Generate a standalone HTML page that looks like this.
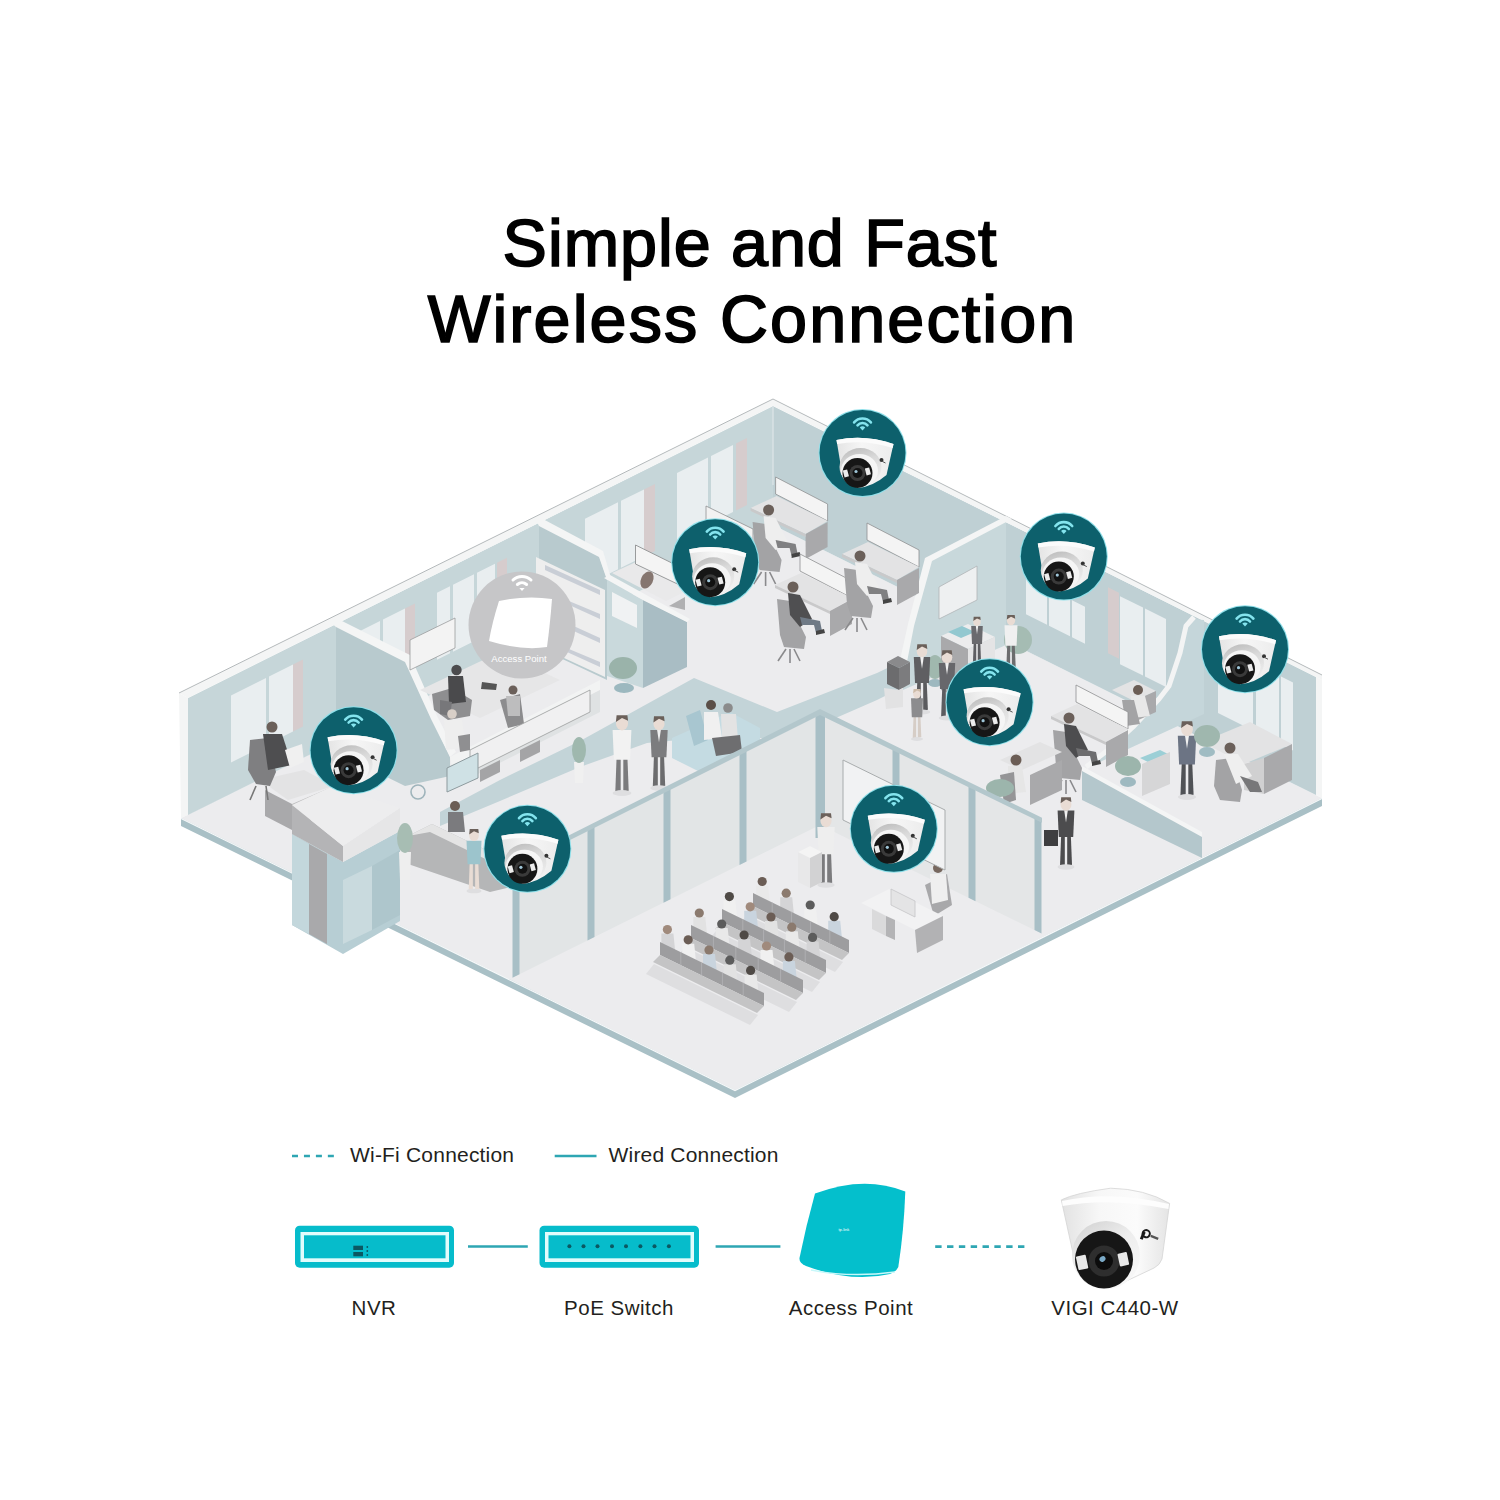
<!DOCTYPE html>
<html><head><meta charset="utf-8"><title>Simple and Fast Wireless Connection</title>
<style>
html,body{margin:0;padding:0;background:#fff;}
body{width:1500px;height:1500px;position:relative;overflow:hidden;font-family:"Liberation Sans",sans-serif;}
.t{position:absolute;color:#0a0a0a;white-space:nowrap;}
.h{text-align:center;font-size:66.5px;line-height:76px;color:#000;-webkit-text-stroke:1.7px #000;}
.l{font-size:21px;line-height:24px;color:#231f20;letter-spacing:0.2px}
.b{font-size:20.5px;line-height:24px;color:#231f20;text-align:center;letter-spacing:0.5px}
</style></head><body>
<svg width="1500" height="1500" viewBox="0 0 1500 1500" style="position:absolute;left:0;top:0">
<defs>
<linearGradient id="cdg" x1="0" y1="0" x2="1" y2="0"><stop offset="0" stop-color="#e4e4e4"/><stop offset="0.45" stop-color="#f6f6f6"/><stop offset="1" stop-color="#ececec"/></linearGradient>
<linearGradient id="crg" x1="0" y1="0" x2="0.3" y2="1"><stop offset="0" stop-color="#b9b9b9"/><stop offset="0.45" stop-color="#d9d9d9"/><stop offset="1" stop-color="#eeeeee"/></linearGradient>

<symbol id="cam" viewBox="-44 -44 88 88" overflow="visible">
 <circle r="44" fill="#8fe0ea"/>
 <circle r="43" fill="#0d606c"/>
 <path d="M-8.4,-30.6 A11,11 0 0 1 8.4,-30.6" fill="none" stroke="#84e4ee" stroke-width="2.6" stroke-linecap="round"/>
 <path d="M-5,-27.7 A6.5,6.5 0 0 1 5,-27.7" fill="none" stroke="#84e4ee" stroke-width="2.6" stroke-linecap="round"/>
 <path d="M0,-22.6 L-2.7,-25.6 A3.6,3.6 0 0 1 2.7,-25.6 Z" fill="#84e4ee"/>
 <path d="M-26,-13 Q2,-19 31,-9 L24,22 Q10,34 -5,35 L-20,23 Z" fill="url(#cdg)"/>
 <path d="M-26,-13 Q2,-19 31,-9 L30.2,-5 Q2,-14 -25.4,-9 Z" fill="#fbfbfb"/>
 <ellipse cx="-2" cy="14" rx="21" ry="19" fill="url(#crg)"/>
 <ellipse cx="-3" cy="17.5" rx="18.5" ry="16.5" fill="#f5f5f5"/>
 <circle cx="-5" cy="20" r="15" fill="#161616"/>
 <circle cx="-5" cy="20" r="8" fill="#3a3a3a"/>
 <circle cx="-5" cy="20" r="5" fill="#111"/>
 <circle cx="-6.5" cy="18.5" r="1.6" fill="#9fc6d8"/>
 <rect x="-19" y="17" width="4.5" height="7" fill="#ececec" transform="rotate(-15 -17 20)"/>
 <rect x="3" y="15" width="4.5" height="7" fill="#ececec" transform="rotate(-15 5 18)"/>
 <circle cx="19" cy="7" r="2" fill="#333"/>
 <path d="M19,8 L23,10" stroke="#555" stroke-width="1"/>
</symbol></defs>
<polygon points="181.0,818.0 773.0,525.0 1322.0,798.0 735.0,1090.0" fill="#ececee" />
<polygon points="181.0,818.0 735.0,1090.0 1322.0,798.0 1322.0,806.0 735.0,1098.0 181.0,826.0" fill="#a9c0c6" />
<polyline points="181.0,818.5 735.0,1090.5 1322.0,798.5" fill="none" stroke="#f6f8f9" stroke-width="1.2" />
<polygon points="188.0,698.0 773.0,406.0 773.0,525.0 188.0,815.0" fill="#c6d6d9" />
<polygon points="773.0,406.0 1316.0,677.0 1316.0,795.0 773.0,525.0" fill="#bfd0d4" />
<polygon points="231.0,695.5 266.0,678.0 266.0,745.0 231.0,762.5" fill="#e9eef0" />
<polygon points="269.0,676.5 293.0,664.5 293.0,731.5 269.0,743.5" fill="#e9eef0" />
<polygon points="357.0,632.6 380.0,621.1 380.0,688.1 357.0,699.6" fill="#e9eef0" />
<polygon points="383.0,619.6 405.0,608.6 405.0,675.6 383.0,686.6" fill="#e9eef0" />
<polygon points="437.0,592.7 450.0,586.2 450.0,653.2 437.0,659.7" fill="#e9eef0" />
<polygon points="453.0,584.7 474.0,574.2 474.0,641.2 453.0,651.7" fill="#e9eef0" />
<polygon points="477.0,572.7 495.0,563.7 495.0,630.7 477.0,639.7" fill="#e9eef0" />
<polygon points="585.0,518.8 618.0,502.3 618.0,569.3 585.0,585.8" fill="#e9eef0" />
<polygon points="621.0,500.8 644.0,489.4 644.0,556.4 621.0,567.8" fill="#e9eef0" />
<polygon points="677.0,472.9 708.0,457.4 708.0,524.4 677.0,539.9" fill="#e9eef0" />
<polygon points="711.0,455.9 733.0,445.0 733.0,512.0 711.0,522.9" fill="#e9eef0" />
<polygon points="293.0,664.5 303.0,659.5 303.0,726.5 293.0,731.5" fill="#d6cccd" />
<polygon points="405.0,608.6 415.0,603.6 415.0,670.6 405.0,675.6" fill="#d6cccd" />
<polygon points="497.0,562.7 507.0,557.7 507.0,624.7 497.0,629.7" fill="#d6cccd" />
<polygon points="644.0,489.4 655.0,483.9 655.0,550.9 644.0,556.4" fill="#d6cccd" />
<polygon points="736.0,443.5 747.0,438.0 747.0,505.0 736.0,510.5" fill="#d6cccd" />
<polygon points="1026.0,577.2 1047.0,587.7 1047.0,624.7 1026.0,614.2" fill="#e9eef0" />
<polygon points="1049.0,588.7 1070.0,599.2 1070.0,636.2 1049.0,625.7" fill="#e9eef0" />
<polygon points="1072.0,600.2 1085.0,606.7 1085.0,643.7 1072.0,637.2" fill="#e9eef0" />
<polygon points="1120.0,596.2 1143.0,607.6 1143.0,675.6 1120.0,664.2" fill="#e9eef0" />
<polygon points="1145.0,608.6 1166.0,619.1 1166.0,687.1 1145.0,676.6" fill="#e9eef0" />
<polygon points="1218.0,645.1 1253.0,662.5 1253.0,730.5 1218.0,713.1" fill="#e9eef0" />
<polygon points="1256.0,664.0 1279.0,675.5 1279.0,743.5 1256.0,732.0" fill="#e9eef0" />
<polygon points="1281.0,676.5 1293.0,682.5 1293.0,750.5 1281.0,744.5" fill="#e9eef0" />
<polygon points="1108.0,587.2 1119.0,592.7 1119.0,658.7 1108.0,653.2" fill="#d6cccd" />
<polygon points="179.0,693.0 773.0,399.0 1322.0,675.0 1322.0,680.0 1316.0,677.0 773.0,406.0 188.0,698.0" fill="#f4f5f5" />
<polygon points="179.0,693.0 188.0,698.0 188.0,815.0 181.0,818.0" fill="#f4f5f5" />
<polygon points="1316.0,677.0 1322.0,680.0 1322.0,798.0 1316.0,795.0" fill="#f4f5f5" />
<polyline points="179.0,693.0 773.0,399.0 1322.0,675.0" fill="none" stroke="#b4b9bb" stroke-width="1" />
<polyline points="773.0,406.0 773.0,485.0" fill="none" stroke="#d8e2e4" stroke-width="1.5" />
<polygon points="336.0,625.0 405.0,660.0 431.0,717.0 450.0,757.0 450.0,776.0 405.0,786.0 336.0,752.0" fill="#b8cace" />
<polygon points="330.0,622.0 336.0,618.0 410.0,655.0 437.0,716.0 456.0,752.0 450.0,757.0 431.0,719.0 405.0,662.0 336.0,627.0" fill="#f4f5f5" />
<polygon points="450.0,757.0 600.0,680.0 600.0,690.0 452.0,767.0" fill="#f2f3f3" />
<polygon points="452.0,767.0 600.0,690.0 600.0,712.0 470.0,778.0 452.0,790.0" fill="#dfe2e3" />
<polygon points="539.0,523.0 599.0,555.0 607.0,579.0 607.0,680.0 539.0,648.0" fill="#b8cace" />
<polygon points="536.0,520.0 541.0,518.0 603.0,551.0 611.0,578.0 607.0,580.0 599.0,557.0 539.0,526.0" fill="#f4f5f5" />
<polygon points="536.0,557.0 605.0,590.0 605.0,677.0 536.0,645.0" fill="#eeeeee" />
<polygon points="545.0,565.0 600.0,590.0 600.0,595.0 545.0,570.0" fill="#c9ced6" />
<polygon points="545.0,591.0 600.0,614.0 600.0,619.0 545.0,594.0" fill="#c9ced6" />
<polygon points="545.0,613.0 600.0,638.0 600.0,643.0 545.0,618.0" fill="#c9ced6" />
<polygon points="545.0,639.0 600.0,662.0 600.0,667.0 545.0,642.0" fill="#c9ced6" />
<polygon points="607.0,580.0 643.0,600.0 643.0,688.0 607.0,676.0" fill="#c9d9dc" />
<polygon points="612.0,592.0 637.0,605.0 637.0,628.0 612.0,616.0" fill="#f0f2f3" />
<polygon points="643.0,600.0 687.0,622.0 687.0,667.0 643.0,688.0" fill="#a9bdc4" />
<polygon points="604.0,578.0 610.0,575.0 690.0,619.0 687.0,622.0 643.0,600.0" fill="#f4f5f5" />
<polygon points="440.0,812.0 500.0,780.0 580.0,741.0 694.0,678.0 777.0,712.0 877.0,673.0 925.0,650.0 925.0,676.0 877.0,700.0 790.0,738.0 700.0,738.0 647.0,743.0 580.0,767.0 500.0,801.0 440.0,826.0" fill="#c3d4d8" />
<polygon points="1006.0,522.0 928.0,561.0 910.0,625.0 903.0,660.0 903.0,690.0 1006.0,645.0" fill="#c8d8db" />
<polygon points="1006.0,516.0 1012.0,519.0 932.0,561.0 914.0,626.0 907.0,662.0 900.0,660.0 908.0,624.0 925.0,558.0" fill="#f4f5f5" />
<polygon points="939.0,587.0 977.0,566.0 977.0,600.0 939.0,619.0" fill="#eef0f1" stroke="#b0b4b6" stroke-width="0.8"/>
<polygon points="1192.0,619.0 1204.0,620.0 1204.0,714.0 1089.0,767.0 1108.0,750.0 1133.0,727.0 1159.0,699.0 1169.0,686.0 1180.0,653.0 1186.0,626.0" fill="#c5d6da" />
<polyline points="1194.0,617.0 1186.0,626.0 1180.0,653.0 1169.0,686.0 1159.0,699.0 1133.0,727.0 1108.0,750.0 1086.0,767.0" fill="none" stroke="#f3f4f4" stroke-width="5" stroke-linejoin="round"/>
<polygon points="1082.0,770.0 1202.0,836.0 1202.0,858.0 1082.0,800.0" fill="#b4c7cc" />
<polygon points="1082.0,766.0 1202.0,832.0 1202.0,837.0 1082.0,771.0" fill="#f4f5f5" />
<polygon points="260.0,780.0 304.0,770.0 334.0,786.0 288.0,800.0" fill="#e3e3e4" />
<polygon points="265.0,790.0 292.0,804.0 292.0,830.0 265.0,816.0" fill="#a9a9ab" />
<polygon points="292.0,804.0 334.0,786.0 334.0,806.0 292.0,830.0" fill="#bdbdbe" />
<polygon points="250.0,740.0 268.0,738.0 276.0,772.0 270.0,786.0 256.0,784.0 248.0,770.0" fill="#7f7f81" />
<circle cx="272.0" cy="727.0" r="5.5" fill="#6b605a"/>
<polygon points="263.0,734.0 282.0,734.0 292.0,765.0 268.0,770.0" fill="#4e4e50" />
<polygon points="285.0,750.0 302.0,744.0 304.0,762.0 290.0,768.0" fill="#f0f0f0" />
<polyline points="256.0,786.0 250.0,800.0" fill="none" stroke="#777" stroke-width="1.6"/>
<polyline points="266.0,786.0 268.0,800.0" fill="none" stroke="#777" stroke-width="1.6"/>
<polygon points="420.0,690.0 500.0,652.0 560.0,680.0 480.0,718.0" fill="#e6e6e7" />
<polygon points="410.0,640.0 455.0,618.0 455.0,648.0 410.0,670.0" fill="#f3f3f3" stroke="#9a9c9d" stroke-width="0.8"/>
<polygon points="432.0,694.0 452.0,688.0 472.0,700.0 470.0,716.0 448.0,720.0 434.0,710.0" fill="#8e8e90" />
<circle cx="456.5" cy="670.0" r="5.2" fill="#4c4c4e"/>
<polygon points="448.0,676.0 463.0,676.0 466.0,702.0 449.0,704.0" fill="#4a4a4c" />
<polygon points="440.0,700.0 452.0,702.0 450.0,716.0 440.0,714.0" fill="#77777a" />
<polygon points="482.0,682.0 497.0,684.0 496.0,690.0 481.0,689.0" fill="#555" />
<polygon points="500.0,700.0 520.0,694.0 524.0,724.0 508.0,728.0" fill="#8c8c8e" />
<circle cx="513.0" cy="690.0" r="4.5" fill="#6b605a"/>
<polygon points="506.0,696.0 520.0,696.0 520.0,716.0 508.0,716.0" fill="#bdbdbe" />
<circle cx="452.0" cy="714.0" r="4.8" fill="#d8cfc8"/>
<polygon points="444.0,720.0 462.0,720.0 466.0,748.0 446.0,750.0" fill="#eeeeee" />
<polygon points="458.0,736.0 470.0,734.0 470.0,750.0 460.0,752.0" fill="#8f8f91" />
<polygon points="470.0,750.0 590.0,690.0 590.0,712.0 470.0,772.0" fill="#f0f0f1" stroke="#9a9c9d" stroke-width="0.8"/>
<polygon points="480.0,770.0 500.0,760.0 500.0,772.0 480.0,782.0" fill="#a4a4a6" />
<polygon points="520.0,750.0 540.0,740.0 540.0,752.0 520.0,762.0" fill="#a4a4a6" />
<polygon points="447.0,768.0 478.0,753.0 478.0,778.0 447.0,792.0" fill="#cfe1e5" stroke="#8d9a9e" stroke-width="1"/>
<polygon points="706.0,506.0 753.0,529.0 753.0,546.0 706.0,523.0" fill="#f2f2f2" stroke="#8f9192" stroke-width="0.8"/>
<polygon points="775.6,477.0 827.6,504.0 827.6,521.0 775.6,494.0" fill="#f4f4f4" stroke="#8f9192" stroke-width="0.8"/>
<polygon points="750.6,508.0 776.6,496.0 827.6,521.0 805.6,534.0" fill="#e3e3e4" />
<polygon points="805.6,534.0 827.6,522.0 827.6,547.0 805.6,559.0" fill="#a9a9ab" />
<polygon points="750.6,508.0 805.6,534.0 805.6,537.0 750.6,511.0" fill="#c9c9ca" />
<polygon points="752.6,522.0 765.6,524.0 775.6,548.0 781.6,560.0 779.6,572.0 759.6,570.0 755.6,558.0" fill="#a3a3a5" />
<polyline points="761.6,572.0 753.6,584.0" fill="none" stroke="#8a8a8c" stroke-width="1.6"/>
<polyline points="769.6,572.0 775.6,584.0" fill="none" stroke="#8a8a8c" stroke-width="1.6"/>
<polyline points="765.6,572.0 765.6,586.0" fill="none" stroke="#8a8a8c" stroke-width="1.6"/>
<circle cx="768.6" cy="510.0" r="5.5" fill="#6b605a"/>
<polygon points="763.6,516.0 775.6,518.0 787.6,542.0 775.6,550.0 765.6,538.0" fill="#eeeeee" />
<polygon points="775.6,540.0 795.6,544.0 797.6,554.0 791.6,556.0 789.6,548.0 777.6,548.0" fill="#808082" />
<polygon points="791.6,554.0 799.6,552.0 800.6,556.0 791.6,558.0" fill="#444" />
<polygon points="800.0,554.0 852.0,581.0 852.0,598.0 800.0,571.0" fill="#f4f4f4" stroke="#8f9192" stroke-width="0.8"/>
<polygon points="775.0,585.0 801.0,573.0 852.0,598.0 830.0,611.0" fill="#e3e3e4" />
<polygon points="830.0,611.0 852.0,599.0 852.0,624.0 830.0,636.0" fill="#a9a9ab" />
<polygon points="775.0,585.0 830.0,611.0 830.0,614.0 775.0,588.0" fill="#c9c9ca" />
<polygon points="777.0,599.0 790.0,601.0 800.0,625.0 806.0,637.0 804.0,649.0 784.0,647.0 780.0,635.0" fill="#a3a3a5" />
<polyline points="786.0,649.0 778.0,661.0" fill="none" stroke="#8a8a8c" stroke-width="1.6"/>
<polyline points="794.0,649.0 800.0,661.0" fill="none" stroke="#8a8a8c" stroke-width="1.6"/>
<polyline points="790.0,649.0 790.0,663.0" fill="none" stroke="#8a8a8c" stroke-width="1.6"/>
<circle cx="793.0" cy="587.0" r="5.5" fill="#6b605a"/>
<polygon points="788.0,593.0 800.0,595.0 812.0,619.0 800.0,627.0 790.0,615.0" fill="#4f4f51" />
<polygon points="800.0,617.0 820.0,621.0 822.0,631.0 816.0,633.0 814.0,625.0 802.0,625.0" fill="#6f7a86" />
<polygon points="816.0,631.0 824.0,629.0 825.0,633.0 816.0,635.0" fill="#444" />
<polygon points="867.0,523.0 919.0,550.0 919.0,567.0 867.0,540.0" fill="#f4f4f4" stroke="#8f9192" stroke-width="0.8"/>
<polygon points="842.0,554.0 868.0,542.0 919.0,567.0 897.0,580.0" fill="#e3e3e4" />
<polygon points="897.0,580.0 919.0,568.0 919.0,593.0 897.0,605.0" fill="#a9a9ab" />
<polygon points="842.0,554.0 897.0,580.0 897.0,583.0 842.0,557.0" fill="#c9c9ca" />
<polygon points="844.0,568.0 857.0,570.0 867.0,594.0 873.0,606.0 871.0,618.0 851.0,616.0 847.0,604.0" fill="#a3a3a5" />
<polyline points="853.0,618.0 845.0,630.0" fill="none" stroke="#8a8a8c" stroke-width="1.6"/>
<polyline points="861.0,618.0 867.0,630.0" fill="none" stroke="#8a8a8c" stroke-width="1.6"/>
<polyline points="857.0,618.0 857.0,632.0" fill="none" stroke="#8a8a8c" stroke-width="1.6"/>
<circle cx="860.0" cy="556.0" r="5.5" fill="#6b605a"/>
<polygon points="855.0,562.0 867.0,564.0 879.0,588.0 867.0,596.0 857.0,584.0" fill="#eeeeee" />
<polygon points="867.0,586.0 887.0,590.0 889.0,600.0 883.0,602.0 881.0,594.0 869.0,594.0" fill="#808082" />
<polygon points="883.0,600.0 891.0,598.0 892.0,602.0 883.0,604.0" fill="#444" />
<polygon points="612.0,573.0 636.0,562.0 690.0,589.0 666.0,601.0" fill="#e9e9ea" />
<polygon points="635.5,545.0 690.0,572.0 690.0,590.0 635.5,564.0" fill="#f4f4f4" stroke="#8f9192" stroke-width="0.9"/>
<ellipse cx="647" cy="580" rx="6" ry="9" fill="#857670" transform="rotate(25 647 580)"/>
<polygon points="669.0,606.0 685.0,597.0 685.0,610.0" fill="#b0b0b2" />
<polygon points="616.6,757.0 620.7,757.0 620.7,792.0 615.3,792.0" fill="#7b7b7d" />
<polygon points="623.3,757.0 627.4,757.0 628.7,790.7 623.3,792.0" fill="#7b7b7d" />
<polygon points="612.6,730.1 631.4,730.1 630.1,759.7 613.9,759.7" fill="#f2f2f2" />
<ellipse cx="622.0" cy="723.4" rx="6.051724137931035" ry="6.993103448275862" fill="#e9dcd4"/>
<polygon points="615.9,722.1 616.6,715.3 627.4,715.3 628.1,720.7 622.0,718.0" fill="#6b605a" />
<ellipse cx="622.0" cy="793.0" rx="9.413793103448276" ry="2.9586206896551728" fill="#dedee0"/>
<polygon points="654.0,754.7 657.8,754.7 657.8,787.0 652.8,787.0" fill="#6c6c6e" />
<polygon points="660.2,754.7 664.0,754.7 665.2,785.8 660.2,787.0" fill="#6c6c6e" />
<polygon points="650.3,729.9 667.7,729.9 666.4,757.2 651.6,757.2" fill="#7c7c7e" />
<polygon points="657.1,729.9 660.9,729.9 659.0,742.3" fill="#f0f0f0" />
<ellipse cx="659.0" cy="723.7" rx="5.586206896551724" ry="6.455172413793104" fill="#e9dcd4"/>
<polygon points="653.4,722.4 654.0,716.2 664.0,716.2 664.6,721.2 659.0,718.7" fill="#6b605a" />
<ellipse cx="659.0" cy="788.0" rx="8.689655172413794" ry="2.731034482758621" fill="#dedee0"/>
<polygon points="672.0,738.0 730.0,712.0 760.0,728.0 760.0,745.0 700.0,772.0 672.0,758.0" fill="#c4dbe2" />
<polygon points="686.0,716.0 700.0,710.0 708.0,740.0 694.0,746.0" fill="#a8c6d0" />
<circle cx="711.0" cy="705.0" r="5" fill="#5b4f48"/>
<polygon points="704.0,712.0 718.0,712.0 722.0,738.0 704.0,740.0" fill="#f0f0f0" />
<circle cx="728.0" cy="708.0" r="4.8" fill="#8b8b8b"/>
<polygon points="721.0,714.0 736.0,714.0 738.0,740.0 722.0,740.0" fill="#e3e3e3" />
<polygon points="712.0,738.0 740.0,735.0 742.0,752.0 716.0,756.0" fill="#6e6e70" />
<polygon points="574.0,762.0 584.0,762.0 583.0,783.0 575.0,783.0" fill="#f0f0f0" />
<ellipse cx="579.0" cy="750.0" rx="7" ry="13" fill="#9fb8ae"/>
<ellipse cx="623.0" cy="668.0" rx="14" ry="11" fill="#9ab3aa"/>
<ellipse cx="624.0" cy="688.0" rx="10" ry="5" fill="#9cb8bf"/>
<ellipse cx="1018.0" cy="640.0" rx="14" ry="14" fill="#a5bcb3"/>
<polygon points="941.0,636.0 968.0,624.0 995.0,637.0 968.0,649.0" fill="#ececed" />
<polygon points="948.0,632.0 962.0,626.0 975.0,632.0 961.0,638.0" fill="#93c8d0" />
<polygon points="968.0,649.0 995.0,637.0 995.0,690.0 968.0,702.0" fill="#e4e4e5" />
<polygon points="941.0,636.0 968.0,649.0 968.0,702.0 941.0,690.0" fill="#a9a9ab" />
<polygon points="973.7,642.5 976.2,642.5 976.2,664.0 972.9,664.0" fill="#5e5e62" />
<polygon points="977.8,642.5 980.3,642.5 981.1,663.2 977.8,664.0" fill="#5e5e62" />
<polygon points="971.2,625.9 982.8,625.9 982.0,644.1 972.0,644.1" fill="#6a6a6e" />
<polygon points="975.8,625.9 978.2,625.9 977.0,634.2" fill="#f0f0f0" />
<ellipse cx="977.0" cy="621.8" rx="3.7241379310344827" ry="4.303448275862069" fill="#e9dcd4"/>
<polygon points="973.3,621.0 973.7,616.8 980.3,616.8 980.7,620.1 977.0,618.5" fill="#6b605a" />
<ellipse cx="977.0" cy="665.0" rx="5.793103448275862" ry="1.8206896551724139" fill="#dedee0"/>
<polygon points="1007.3,643.8 1010.1,643.8 1010.1,668.0 1006.3,668.0" fill="#6c6c6e" />
<polygon points="1011.9,643.8 1014.7,643.8 1015.7,667.1 1011.9,668.0" fill="#6c6c6e" />
<polygon points="1004.5,625.2 1017.5,625.2 1016.6,645.7 1005.4,645.7" fill="#f0f0f0" />
<ellipse cx="1011.0" cy="620.5" rx="4.189655172413793" ry="4.841379310344828" fill="#e9dcd4"/>
<polygon points="1006.8,619.6 1007.3,614.9 1014.7,614.9 1015.2,618.7 1011.0,616.8" fill="#6b605a" />
<ellipse cx="1011.0" cy="669.0" rx="6.517241379310344" ry="2.048275862068966" fill="#dedee0"/>
<polygon points="887.0,662.0 898.0,656.0 910.0,662.0 899.0,668.0" fill="#8a8a8c" />
<polygon points="887.0,662.0 899.0,668.0 899.0,690.0 887.0,684.0" fill="#6c6c6e" />
<polygon points="899.0,668.0 910.0,662.0 910.0,684.0 899.0,690.0" fill="#7c7c7e" />
<polygon points="884.0,688.0 899.0,690.0 903.0,688.0 903.0,707.0 886.0,709.0" fill="#e2e2e3" />
<ellipse cx="935.0" cy="667.0" rx="8" ry="12" fill="#a0b8ae"/>
<ellipse cx="935.0" cy="683.0" rx="7" ry="4" fill="#9db8bf"/>
<polygon points="917.3,680.5 920.8,680.5 920.8,711.0 916.1,711.0" fill="#5b5b5e" />
<polygon points="923.2,680.5 926.7,680.5 927.9,709.8 923.2,711.0" fill="#5b5b5e" />
<polygon points="913.8,657.1 930.2,657.1 929.0,682.9 915.0,682.9" fill="#5f5f62" />
<polygon points="920.2,657.1 923.8,657.1 922.0,668.8" fill="#f0f0f0" />
<ellipse cx="922.0" cy="651.2" rx="5.275862068965517" ry="6.096551724137931" fill="#e9dcd4"/>
<polygon points="916.7,650.0 917.3,644.2 926.7,644.2 927.3,648.9 922.0,646.5" fill="#6b605a" />
<ellipse cx="922.0" cy="712.0" rx="8.206896551724137" ry="2.579310344827586" fill="#dedee0"/>
<polygon points="942.3,686.5 945.8,686.5 945.8,717.0 941.1,717.0" fill="#5c5c60" />
<polygon points="948.2,686.5 951.7,686.5 952.9,715.8 948.2,717.0" fill="#5c5c60" />
<polygon points="938.8,663.1 955.2,663.1 954.0,688.9 940.0,688.9" fill="#67676b" />
<polygon points="945.2,663.1 948.8,663.1 947.0,674.8" fill="#f0f0f0" />
<ellipse cx="947.0" cy="657.2" rx="5.275862068965517" ry="6.096551724137931" fill="#e9dcd4"/>
<polygon points="941.7,656.0 942.3,650.2 951.7,650.2 952.3,654.9 947.0,652.5" fill="#6b605a" />
<ellipse cx="947.0" cy="718.0" rx="8.206896551724137" ry="2.579310344827586" fill="#dedee0"/>
<polygon points="913.6,715.6 916.1,715.6 916.1,738.0 912.7,738.0" fill="#d6cdc6" />
<polygon points="917.9,715.6 920.4,715.6 921.3,737.1 917.9,738.0" fill="#d6cdc6" />
<polygon points="911.0,698.3 923.0,698.3 922.2,717.3 911.8,717.3" fill="#8c8c8e" />
<ellipse cx="917.0" cy="694.0" rx="3.879310344827586" ry="4.482758620689655" fill="#e9dcd4"/>
<polygon points="913.1,693.2 913.6,688.9 920.4,688.9 920.9,692.3 917.0,690.6" fill="#cdbba8" />
<ellipse cx="917.0" cy="739.0" rx="6.0344827586206895" ry="1.896551724137931" fill="#dedee0"/>
<polygon points="1112.0,690.0 1134.0,680.0 1156.0,691.0 1134.0,701.0" fill="#e3e3e4" />
<polygon points="1134.0,701.0 1156.0,691.0 1156.0,712.0 1134.0,722.0" fill="#a9a9ab" />
<circle cx="1138.0" cy="690.0" r="5" fill="#6b5d55"/>
<polygon points="1131.0,696.0 1145.0,696.0 1150.0,716.0 1133.0,718.0" fill="#e8e8e8" />
<polygon points="1122.0,700.0 1134.0,700.0 1140.0,724.0 1126.0,726.0" fill="#a3a3a5" />
<polygon points="1076.0,685.0 1128.0,712.0 1128.0,729.0 1076.0,702.0" fill="#f4f4f4" stroke="#8f9192" stroke-width="0.8"/>
<polygon points="1051.0,716.0 1077.0,704.0 1128.0,729.0 1106.0,742.0" fill="#e3e3e4" />
<polygon points="1106.0,742.0 1128.0,730.0 1128.0,755.0 1106.0,767.0" fill="#a9a9ab" />
<polygon points="1051.0,716.0 1106.0,742.0 1106.0,745.0 1051.0,719.0" fill="#c9c9ca" />
<polygon points="1053.0,730.0 1066.0,732.0 1076.0,756.0 1082.0,768.0 1080.0,780.0 1060.0,778.0 1056.0,766.0" fill="#a3a3a5" />
<polyline points="1062.0,780.0 1054.0,792.0" fill="none" stroke="#8a8a8c" stroke-width="1.6"/>
<polyline points="1070.0,780.0 1076.0,792.0" fill="none" stroke="#8a8a8c" stroke-width="1.6"/>
<polyline points="1066.0,780.0 1066.0,794.0" fill="none" stroke="#8a8a8c" stroke-width="1.6"/>
<circle cx="1069.0" cy="718.0" r="5.5" fill="#6b605a"/>
<polygon points="1064.0,724.0 1076.0,726.0 1088.0,750.0 1076.0,758.0 1066.0,746.0" fill="#4d4d4f" />
<polygon points="1076.0,748.0 1096.0,752.0 1098.0,762.0 1092.0,764.0 1090.0,756.0 1078.0,756.0" fill="#6d6d6f" />
<polygon points="1092.0,762.0 1100.0,760.0 1101.0,764.0 1092.0,766.0" fill="#444" />
<polygon points="1000.0,760.0 1040.0,742.0 1062.0,752.0 1022.0,770.0" fill="#e3e3e4" />
<polygon points="1030.0,775.0 1062.0,760.0 1062.0,790.0 1030.0,805.0" fill="#a9a9ab" />
<circle cx="1016.0" cy="760.0" r="5.5" fill="#6b5d55"/>
<polygon points="1008.0,766.0 1022.0,766.0 1026.0,792.0 1008.0,794.0" fill="#e6e6e6" />
<polygon points="1000.0,775.0 1014.0,772.0 1016.0,800.0 1004.0,804.0" fill="#959597" />
<polygon points="1061.2,834.6 1064.8,834.6 1064.8,866.0 1060.0,866.0" fill="#4c4c4e" />
<polygon points="1067.2,834.6 1070.8,834.6 1072.0,864.8 1067.2,866.0" fill="#4c4c4e" />
<polygon points="1057.6,810.5 1074.4,810.5 1073.2,837.0 1058.8,837.0" fill="#4c4c4e" />
<polygon points="1064.2,810.5 1067.8,810.5 1066.0,822.6" fill="#f0f0f0" />
<ellipse cx="1066.0" cy="804.4" rx="5.431034482758621" ry="6.275862068965517" fill="#e9dcd4"/>
<polygon points="1060.6,803.2 1061.2,797.2 1070.8,797.2 1071.4,802.0 1066.0,799.6" fill="#6b605a" />
<ellipse cx="1066.0" cy="867.0" rx="8.448275862068964" ry="2.6551724137931036" fill="#dedee0"/>
<polygon points="1044.0,830.0 1058.0,830.0 1058.0,846.0 1044.0,846.0" fill="#3e3e40" />
<ellipse cx="1000.0" cy="788.0" rx="14" ry="9" fill="#9cb5ac"/>
<ellipse cx="1000.0" cy="805.0" rx="9" ry="5" fill="#9eb9c0"/>
<polygon points="1181.8,761.9 1185.7,761.9 1185.7,796.0 1180.4,796.0" fill="#505256" />
<polygon points="1188.3,761.9 1192.2,761.9 1193.6,794.7 1188.3,796.0" fill="#505256" />
<polygon points="1177.8,735.7 1196.2,735.7 1194.9,764.6 1179.1,764.6" fill="#6c7484" />
<polygon points="1185.0,735.7 1189.0,735.7 1187.0,748.8" fill="#f0f0f0" />
<ellipse cx="1187.0" cy="729.2" rx="5.896551724137931" ry="6.813793103448276" fill="#e9dcd4"/>
<polygon points="1181.1,727.9 1181.8,721.3 1192.2,721.3 1192.9,726.6 1187.0,723.9" fill="#6b605a" />
<ellipse cx="1187.0" cy="797.0" rx="9.172413793103448" ry="2.882758620689655" fill="#dedee0"/>
<polygon points="1202.0,742.0 1250.0,722.0 1292.0,744.0 1244.0,764.0" fill="#e3e3e4" />
<polygon points="1264.0,758.0 1292.0,744.0 1292.0,780.0 1264.0,794.0" fill="#a9a9ab" />
<polygon points="1244.0,764.0 1264.0,758.0 1264.0,794.0 1244.0,790.0" fill="#d0d0d1" />
<polygon points="1216.0,760.0 1232.0,758.0 1242.0,790.0 1240.0,802.0 1220.0,800.0 1214.0,786.0" fill="#a3a3a5" />
<circle cx="1230.0" cy="748.0" r="5.5" fill="#6b605a"/>
<polygon points="1224.0,754.0 1238.0,754.0 1252.0,776.0 1236.0,784.0" fill="#efefef" />
<polygon points="1240.0,776.0 1258.0,782.0 1262.0,792.0 1250.0,792.0" fill="#777779" />
<ellipse cx="1207.0" cy="736.0" rx="13" ry="11" fill="#9fb7ae"/>
<ellipse cx="1207.0" cy="752.0" rx="8" ry="5" fill="#a0bcc3"/>
<ellipse cx="1128.0" cy="766.0" rx="13" ry="10" fill="#9cb5ac"/>
<ellipse cx="1128.0" cy="782.0" rx="8" ry="5" fill="#9eb9c0"/>
<polygon points="1140.0,758.0 1160.0,750.0 1168.0,754.0 1148.0,762.0" fill="#9ccfd6" />
<polygon points="1142.0,764.0 1170.0,752.0 1170.0,784.0 1142.0,796.0" fill="#d6d6d7" />
<polygon points="516.0,863.1 820.0,712.0 820.0,825.0 516.0,976.1" fill="#e2e5e6" />
<polygon points="820.0,712.0 1038.0,818.8 1038.0,931.8 820.0,825.0" fill="#e4e6e7" />
<polygon points="512.5,864.8 519.5,861.3 519.5,974.3 512.5,977.8" fill="#a8bfc6" />
<polygon points="587.5,827.6 594.5,824.1 594.5,937.1 587.5,940.6" fill="#a8bfc6" />
<polygon points="663.5,789.8 670.5,786.3 670.5,899.3 663.5,902.8" fill="#a8bfc6" />
<polygon points="739.5,752.0 746.5,748.5 746.5,861.5 739.5,865.0" fill="#a8bfc6" />
<polygon points="892.5,747.5 899.5,751.0 899.5,864.0 892.5,860.5" fill="#a8bfc6" />
<polygon points="968.5,784.8 975.5,788.2 975.5,901.2 968.5,897.8" fill="#a8bfc6" />
<polygon points="1034.5,817.1 1041.5,820.5 1041.5,933.5 1034.5,930.1" fill="#a8bfc6" />
<polygon points="815.5,712.0 825.0,712.0 825.0,838.0 815.5,838.0" fill="#a8bfc6" />
<polygon points="512.0,864.1 820.0,709.0 1042.0,817.8 1042.0,822.8 820.0,715.0 512.0,869.1" fill="#b3c7cc" />
<polygon points="292.0,834.0 343.0,862.0 400.0,831.0 400.0,921.0 343.0,954.0 292.0,925.0" fill="#b7ced4" />
<polygon points="292.0,834.0 309.0,844.0 309.0,934.0 292.0,925.0" fill="#c3d7dc" />
<polygon points="309.0,844.0 327.0,854.0 327.0,944.0 309.0,934.0" fill="#a9a9ab" />
<polygon points="343.0,880.0 372.0,866.0 372.0,930.0 343.0,944.0" fill="#c9dade" />
<polygon points="372.0,866.0 400.0,850.0 400.0,915.0 372.0,930.0" fill="#aec6cc" />
<polygon points="292.0,805.0 343.0,846.0 343.0,862.0 292.0,834.0" fill="#b4b4b6" />
<polygon points="343.0,846.0 400.0,808.0 400.0,831.0 343.0,862.0" fill="#e6e6e7" />
<polygon points="292.0,805.0 333.0,786.0 400.0,808.0 343.0,846.0" fill="#ededee" />
<polygon points="408.0,836.0 432.0,824.0 515.0,864.0 515.0,886.0 490.0,892.0 408.0,864.0" fill="#b5b6b7" />
<polygon points="408.0,836.0 432.0,824.0 515.0,864.0 508.0,870.0 430.0,832.0" fill="#e4e4e4" />
<polygon points="747.0,915.0 843.0,962.0 835.0,972.0 739.0,925.0" fill="#dedee0" />
<polygon points="756.2,885.5 768.2,885.5 770.2,905.5 756.2,904.5" fill="#e9e9e9" />
<circle cx="762.2" cy="881.5" r="4.6" fill="#6b5d55"/>
<polygon points="780.2,897.2 792.2,897.2 794.2,917.2 780.2,916.2" fill="#d4d4d6" />
<circle cx="786.2" cy="893.2" r="4.6" fill="#8b7a6e"/>
<polygon points="804.2,909.0 816.2,909.0 818.2,929.0 804.2,928.0" fill="#f0f0f0" />
<circle cx="810.2" cy="905.0" r="4.6" fill="#5c5c5c"/>
<polygon points="828.2,920.7 840.2,920.7 842.2,940.7 828.2,939.7" fill="#c9d4de" />
<circle cx="834.2" cy="916.7" r="4.6" fill="#4f4a46"/>
<polygon points="753.0,893.0 849.0,940.0 849.0,953.0 753.0,906.0" fill="#9d9d9f" />
<polygon points="753.0,906.0 849.0,953.0 842.0,960.0 746.0,913.0" fill="#c4c4c5" />
<polyline points="772.2,902.4 772.2,915.4" fill="none" stroke="#b4b4b6" stroke-width="0.8"/>
<polyline points="791.4,911.8 791.4,924.8" fill="none" stroke="#b4b4b6" stroke-width="0.8"/>
<polyline points="810.6,921.2 810.6,934.2" fill="none" stroke="#b4b4b6" stroke-width="0.8"/>
<polyline points="829.8,930.6 829.8,943.6" fill="none" stroke="#b4b4b6" stroke-width="0.8"/>
<polygon points="716.0,931.0 820.0,982.0 812.0,992.0 708.0,941.0" fill="#dedee0" />
<polygon points="723.4,900.6 735.4,900.6 737.4,920.6 723.4,919.6" fill="#f0f0f0" />
<circle cx="729.4" cy="896.6" r="4.6" fill="#4f4a46"/>
<polygon points="744.2,910.8 756.2,910.8 758.2,930.8 744.2,929.8" fill="#c9d4de" />
<circle cx="750.2" cy="906.8" r="4.6" fill="#a08a7c"/>
<polygon points="765.0,921.0 777.0,921.0 779.0,941.0 765.0,940.0" fill="#e2e2e2" />
<circle cx="771.0" cy="917.0" r="4.6" fill="#6b5d55"/>
<polygon points="785.8,931.2 797.8,931.2 799.8,951.2 785.8,950.2" fill="#e9e9e9" />
<circle cx="791.8" cy="927.2" r="4.6" fill="#8b7a6e"/>
<polygon points="806.6,941.4 818.6,941.4 820.6,961.4 806.6,960.4" fill="#d4d4d6" />
<circle cx="812.6" cy="937.4" r="4.6" fill="#5c5c5c"/>
<polygon points="722.0,909.0 826.0,960.0 826.0,973.0 722.0,922.0" fill="#9d9d9f" />
<polygon points="722.0,922.0 826.0,973.0 819.0,980.0 715.0,929.0" fill="#c4c4c5" />
<polyline points="742.8,919.2 742.8,932.2" fill="none" stroke="#b4b4b6" stroke-width="0.8"/>
<polyline points="763.6,929.4 763.6,942.4" fill="none" stroke="#b4b4b6" stroke-width="0.8"/>
<polyline points="784.4,939.6 784.4,952.6" fill="none" stroke="#b4b4b6" stroke-width="0.8"/>
<polyline points="805.2,949.8 805.2,962.8" fill="none" stroke="#b4b4b6" stroke-width="0.8"/>
<polygon points="685.0,947.0 797.0,1001.9 789.0,1011.9 677.0,957.0" fill="#dedee0" />
<polygon points="693.3,917.0 705.3,917.0 707.3,937.0 693.3,936.0" fill="#e2e2e2" />
<circle cx="699.3" cy="913.0" r="4.6" fill="#8b7a6e"/>
<polygon points="715.7,928.0 727.7,928.0 729.7,948.0 715.7,947.0" fill="#e9e9e9" />
<circle cx="721.7" cy="924.0" r="4.6" fill="#5c5c5c"/>
<polygon points="738.1,939.0 750.1,939.0 752.1,959.0 738.1,958.0" fill="#d4d4d6" />
<circle cx="744.1" cy="935.0" r="4.6" fill="#4f4a46"/>
<polygon points="760.5,950.0 772.5,950.0 774.5,970.0 760.5,969.0" fill="#f0f0f0" />
<circle cx="766.5" cy="946.0" r="4.6" fill="#a08a7c"/>
<polygon points="782.9,960.9 794.9,960.9 796.9,980.9 782.9,979.9" fill="#c9d4de" />
<circle cx="788.9" cy="956.9" r="4.6" fill="#6b5d55"/>
<polygon points="691.0,925.0 803.0,979.9 803.0,992.9 691.0,938.0" fill="#9d9d9f" />
<polygon points="691.0,938.0 803.0,992.9 796.0,999.9 684.0,945.0" fill="#c4c4c5" />
<polyline points="713.4,936.0 713.4,949.0" fill="none" stroke="#b4b4b6" stroke-width="0.8"/>
<polyline points="735.8,947.0 735.8,960.0" fill="none" stroke="#b4b4b6" stroke-width="0.8"/>
<polyline points="758.2,957.9 758.2,970.9" fill="none" stroke="#b4b4b6" stroke-width="0.8"/>
<polyline points="780.6,968.9 780.6,981.9" fill="none" stroke="#b4b4b6" stroke-width="0.8"/>
<polygon points="654.0,964.0 758.0,1015.0 750.0,1025.0 646.0,974.0" fill="#dedee0" />
<polygon points="661.4,933.6 673.4,933.6 675.4,953.6 661.4,952.6" fill="#d4d4d6" />
<circle cx="667.4" cy="929.6" r="4.6" fill="#a08a7c"/>
<polygon points="682.2,943.8 694.2,943.8 696.2,963.8 682.2,962.8" fill="#f0f0f0" />
<circle cx="688.2" cy="939.8" r="4.6" fill="#6b5d55"/>
<polygon points="703.0,954.0 715.0,954.0 717.0,974.0 703.0,973.0" fill="#c9d4de" />
<circle cx="709.0" cy="950.0" r="4.6" fill="#8b7a6e"/>
<polygon points="723.8,964.2 735.8,964.2 737.8,984.2 723.8,983.2" fill="#e2e2e2" />
<circle cx="729.8" cy="960.2" r="4.6" fill="#5c5c5c"/>
<polygon points="744.6,974.4 756.6,974.4 758.6,994.4 744.6,993.4" fill="#e9e9e9" />
<circle cx="750.6" cy="970.4" r="4.6" fill="#4f4a46"/>
<polygon points="660.0,942.0 764.0,993.0 764.0,1006.0 660.0,955.0" fill="#9d9d9f" />
<polygon points="660.0,955.0 764.0,1006.0 757.0,1013.0 653.0,962.0" fill="#c4c4c5" />
<polyline points="680.8,952.2 680.8,965.2" fill="none" stroke="#b4b4b6" stroke-width="0.8"/>
<polyline points="701.6,962.4 701.6,975.4" fill="none" stroke="#b4b4b6" stroke-width="0.8"/>
<polyline points="722.4,972.6 722.4,985.6" fill="none" stroke="#b4b4b6" stroke-width="0.8"/>
<polyline points="743.2,982.8 743.2,995.8" fill="none" stroke="#b4b4b6" stroke-width="0.8"/>
<polygon points="821.0,851.7 824.8,851.7 824.8,884.0 819.8,884.0" fill="#7b7b7d" />
<polygon points="827.2,851.7 831.0,851.7 832.2,882.8 827.2,884.0" fill="#7b7b7d" />
<polygon points="817.3,826.9 834.7,826.9 833.4,854.2 818.6,854.2" fill="#eeeeee" />
<ellipse cx="826.0" cy="820.7" rx="5.586206896551724" ry="6.455172413793104" fill="#e9dcd4"/>
<polygon points="820.4,819.4 821.0,813.2 831.0,813.2 831.6,818.2 826.0,815.7" fill="#6b605a" />
<ellipse cx="826.0" cy="885.0" rx="8.689655172413794" ry="2.731034482758621" fill="#dedee0"/>
<polygon points="798.0,852.0 810.0,846.0 822.0,852.0 822.0,882.0 810.0,888.0 798.0,882.0" fill="#e8e8e9" />
<polygon points="810.0,852.0 822.0,852.0 822.0,882.0 810.0,888.0" fill="#d2d2d3" />
<polygon points="798.0,852.0 810.0,846.0 822.0,852.0 810.0,858.0" fill="#f4f4f4" />
<polygon points="925.0,885.0 947.0,874.0 952.0,905.0 934.0,916.0" fill="#a8a8aa" />
<circle cx="938.0" cy="868.0" r="5" fill="#77685f"/>
<polygon points="930.0,874.0 946.0,874.0 948.0,900.0 932.0,904.0" fill="#efefef" />
<polygon points="861.0,903.0 889.0,889.0 943.0,916.0 915.0,930.0" fill="#f2f2f3" />
<polygon points="872.0,909.0 886.0,916.0 886.0,936.0 872.0,929.0" fill="#dadadb" />
<polygon points="886.0,916.0 895.0,920.0 895.0,940.0 886.0,936.0" fill="#b4b4b6" />
<polygon points="915.0,930.0 943.0,916.0 943.0,940.0 917.0,953.0" fill="#b2b2b4" />
<polygon points="891.0,889.0 915.0,901.0 915.0,917.0 891.0,905.0" fill="#e4e4e5" stroke="#c4c4c6" stroke-width="0.8"/>
<polygon points="843.0,760.0 945.0,810.0 945.0,870.0 843.0,820.0" fill="#f1f2f3" stroke="#a8acad" stroke-width="1"/>
<circle cx="455.0" cy="806.0" r="5" fill="#6b5d55"/>
<polygon points="448.0,812.0 463.0,812.0 465.0,832.0 448.0,832.0" fill="#7b7b7e" />
<polygon points="469.7,862.2 472.9,862.2 472.9,890.0 468.7,890.0" fill="#e8dcd4" />
<polygon points="475.1,862.2 478.3,862.2 479.3,888.9 475.1,890.0" fill="#e8dcd4" />
<polygon points="466.5,840.8 481.5,840.8 480.4,864.3 467.6,864.3" fill="#9cc4cc" />
<ellipse cx="474.0" cy="835.5" rx="4.810344827586206" ry="5.558620689655172" fill="#e9dcd4"/>
<polygon points="469.2,834.4 469.7,829.1 478.3,829.1 478.8,833.3 474.0,831.2" fill="#6b605a" />
<ellipse cx="474.0" cy="891.0" rx="7.482758620689655" ry="2.3517241379310345" fill="#dedee0"/>
<polygon points="399.0,852.0 411.0,852.0 410.0,880.0 400.0,880.0" fill="#eeeeee" />
<ellipse cx="405.0" cy="838.0" rx="8" ry="15" fill="#a7bdb3"/>
<circle cx="418" cy="792" r="7" fill="none" stroke="#9fb4bb" stroke-width="1.6"/>

<g transform="translate(522,625)">
 <circle r="53.5" fill="#c6c6c8"/>
 <path d="M-9,-45 A13,13 0 0 1 9,-45" fill="none" stroke="#fff" stroke-width="3" stroke-linecap="round"/>
 <path d="M-4.6,-40.5 A7,7 0 0 1 4.6,-40.5" fill="none" stroke="#fff" stroke-width="3" stroke-linecap="round"/>
 <path d="M-2.6,-37 L0,-34 L2.6,-37 Z" fill="#fff"/>
 <path d="M-23,-24 Q5,-30 30,-26 Q28,0 25,22 Q0,26 -33,16 Q-30,-2 -23,-24 Z" fill="#fff"/>
 <text x="-3" y="37" font-family="Liberation Sans" font-size="9.6" fill="#fff" text-anchor="middle">Access Point</text>
</g>
<use href="#cam" x="818.5" y="409.0" width="88" height="88"/>
<use href="#cam" x="671.2" y="518.2" width="88" height="88"/>
<use href="#cam" x="1019.8" y="512.6" width="88" height="88"/>
<use href="#cam" x="1201.0" y="605.2" width="88" height="88"/>
<use href="#cam" x="945.6" y="658.2" width="88" height="88"/>
<use href="#cam" x="309.6" y="706.2" width="88" height="88"/>
<use href="#cam" x="483.4" y="804.8" width="88" height="88"/>
<use href="#cam" x="849.8" y="784.8" width="88" height="88"/>
</svg>

<svg width="1500" height="1500" viewBox="0 0 1500 1500" style="position:absolute;left:0;top:0">
 <g stroke="#2ea6b3" stroke-width="2.7">
  <line x1="292" y1="1156" x2="334" y2="1156" stroke-dasharray="6 5.95"/>
  <line x1="554.7" y1="1156" x2="596.5" y2="1156"/>
  <line x1="468" y1="1246.5" x2="527.8" y2="1246.5"/>
  <line x1="715.6" y1="1246.5" x2="780.4" y2="1246.5"/>
  <line x1="935.2" y1="1246.6" x2="1024.4" y2="1246.6" stroke-dasharray="6.4 5.43"/>
 </g>
 <!-- NVR -->
 <rect x="295" y="1225.7" width="159" height="42" rx="4.7" fill="#06bccb"/>
 <rect x="300.5" y="1232" width="148.5" height="30" fill="#e2fcfc"/>
 <rect x="304" y="1235.3" width="141.5" height="23" fill="#06bccb"/>
 <rect x="353.3" y="1245.7" width="9.7" height="4.3" fill="#0b5862"/>
 <rect x="353.3" y="1252" width="9.7" height="4.3" fill="#0b5862"/>
 <circle cx="367.3" cy="1247" r="0.9" fill="#0b5862"/><circle cx="367.3" cy="1251" r="0.9" fill="#0b5862"/><circle cx="367.3" cy="1255" r="0.9" fill="#0b5862"/>
 <!-- PoE -->
 <rect x="539.5" y="1225.7" width="159.5" height="42" rx="4.7" fill="#06bccb"/>
 <rect x="545" y="1232" width="149" height="30" fill="#e2fcfc"/>
 <rect x="548.5" y="1235.3" width="142" height="23" fill="#06bccb"/>
 <g fill="#0b5862">
  <circle cx="569.4" cy="1246.3" r="2"/><circle cx="583.5" cy="1246.3" r="2"/><circle cx="597.5" cy="1246.3" r="2"/><circle cx="612" cy="1246.3" r="2"/>
  <circle cx="626" cy="1246.3" r="2"/><circle cx="640.4" cy="1246.3" r="2"/><circle cx="654.5" cy="1246.3" r="2"/><circle cx="668.9" cy="1246.3" r="2"/>
 </g>
 <!-- AP -->
 <path d="M815,1193.6 Q864,1175 905.3,1191.5 Q904,1230 898.3,1267 Q896,1272 890,1274 Q851,1283 806,1266 Q799,1263 799.5,1258 Q806,1226 815,1193.6 Z" fill="#04bfcc"/>
 <path d="M811,1270 Q850,1278 895,1272" stroke="#c8f8fa" stroke-width="1.4" fill="none"/>
 <text x="838.5" y="1231" font-family="Liberation Sans" font-size="4" fill="#fff">tp-link</text>
 <!-- camera -->
 <defs>
  <linearGradient id="dg" x1="0" y1="0" x2="1" y2="0">
   <stop offset="0" stop-color="#e2e2e2"/><stop offset="0.35" stop-color="#f7f7f7"/><stop offset="0.7" stop-color="#fbfbfb"/><stop offset="1" stop-color="#e4e4e4"/>
  </linearGradient>
  <linearGradient id="rg" x1="0" y1="0" x2="0.6" y2="1">
   <stop offset="0" stop-color="#cfcfcf"/><stop offset="0.5" stop-color="#ededed"/><stop offset="1" stop-color="#f7f7f7"/>
  </linearGradient>
 </defs>
 <g>
  <path d="M1061.3,1199.9 Q1075,1193 1110.7,1188.2 Q1145,1189 1169.6,1203.4 L1162,1259 Q1160,1265 1154,1268 L1120,1284 L1085,1282 Q1078,1274 1076,1266.7 Z" fill="url(#dg)" stroke="#d4d4d4" stroke-width="0.8"/>
  <path d="M1062,1201 Q1110,1190 1169,1204 L1168.4,1209 Q1110,1197 1062.6,1206 Z" fill="#fdfdfd"/>
  <circle cx="1106" cy="1255" r="34" fill="url(#rg)"/>
  <circle cx="1104" cy="1259.5" r="29" fill="#161616"/>
  <circle cx="1104" cy="1261" r="15.5" fill="#2e2e2e"/>
  <circle cx="1104" cy="1261" r="9" fill="#0c0c0c"/>
  <ellipse cx="1102.5" cy="1259" rx="3.2" ry="2.6" fill="#7aa9c6" transform="rotate(-35 1102.5 1259)"/>
  <rect x="1077" y="1255.4" width="10" height="14" rx="1" fill="#e8e8e8" transform="rotate(-12 1082 1262)"/>
  <rect x="1118.5" y="1252.8" width="9.5" height="13" rx="1" fill="#e8e8e8" transform="rotate(-12 1123 1259)"/>
  <g transform="translate(1144,1228.5) rotate(22)">
   <circle cx="4" cy="4" r="3.6" fill="none" stroke="#1a1a1a" stroke-width="2"/>
   <rect x="0" y="3" width="3" height="8" fill="#1a1a1a"/>
   <rect x="9" y="3" width="8" height="2.4" fill="#555"/>
  </g>
 </g>
</svg>

<div class="t h" style="top:205px;left:0;width:1500px;letter-spacing:0.95px">Simple and Fast</div>
<div class="t h" style="top:281px;left:2.5px;width:1500px;letter-spacing:2.1px">Wireless Connection</div>
<div class="t l" style="top:1143px;left:350px;">Wi-Fi Connection</div>
<div class="t l" style="top:1143px;left:608.5px;">Wired Connection</div>
<div class="t b" style="top:1296px;left:274px;width:200px;">NVR</div>
<div class="t b" style="top:1296px;left:519px;width:200px;">PoE Switch</div>
<div class="t b" style="top:1296px;left:751px;width:200px;">Access Point</div>
<div class="t b" style="top:1296px;left:1015px;width:200px;">VIGI C440-W</div>

</body></html>
